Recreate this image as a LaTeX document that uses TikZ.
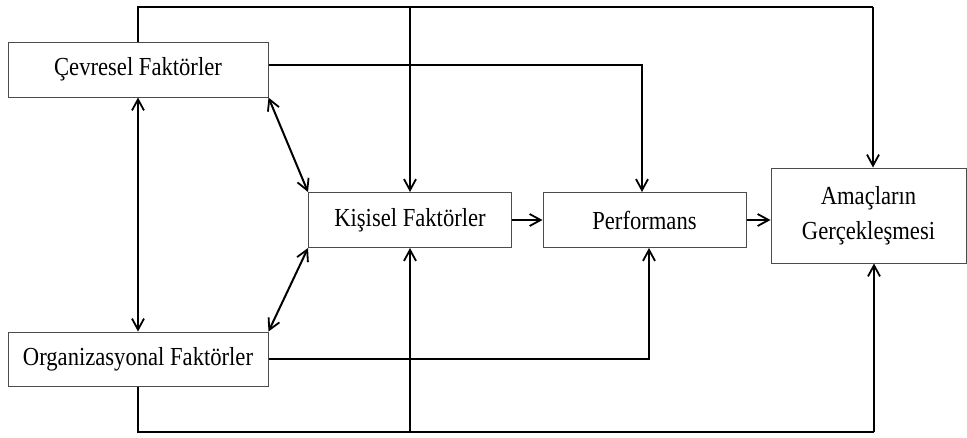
\documentclass[tikz,border=0pt]{standalone}
\usepackage{fontspec}
\setmainfont{Liberation Serif}
\newfontfamily\boxfont[FakeStretch=0.87]{Liberation Serif}
\usetikzlibrary{arrows.meta,calc}
\begin{document}
\begin{tikzpicture}[x=1pt,y=-1pt,
  box/.style={draw=black!70,line width=1pt,fill=white,inner sep=0pt,
    font=\boxfont\fontsize{26}{35}\selectfont,align=center},
  conn/.style={line width=2pt,-{Straight Barb[length=11pt,width=12pt,line width=1.8pt]}},
  dconn/.style={line width=2pt,{Straight Barb[length=11pt,width=12pt,line width=1.8pt]}-{Straight Barb[length=11pt,width=12pt,line width=1.8pt]}},
  heavy/.style={line width=2.6pt},
  hconn/.style={line width=2.6pt,-{Straight Barb[length=11pt,width=12pt,line width=1.8pt]}}]
\useasboundingbox (0,0) rectangle (967,437);
\node[box,minimum width=260pt,minimum height=55pt] (cev) at (138,69.5) {Çevresel Faktörler};
\node[box,minimum width=260pt,minimum height=54pt] (org) at (138,359) {Organizasyonal Faktörler};
\node[box,minimum width=203pt,minimum height=55pt] (kis) at (410,220) {Kişisel Faktörler};
\node[box,minimum width=203pt,minimum height=55pt] (perf) at (644.5,220) {Performans};
\node[box,minimum width=195pt,minimum height=95pt] (ama) at (868.5,215.5) {Amaçların\\Gerçekleşmesi};
\coordinate (top) at (0,7);
\coordinate (bot) at (0,432);
% top line
\draw[heavy] (cev.north) |- ([xshift=4.5pt]ama.north |- top);
\draw[conn] ([xshift=4.5pt]ama.north |- top) -- ([xshift=4.5pt]ama.north);
\draw[conn] (kis.north |- top) -- (kis.north);
% bottom line
\draw[heavy] (org.south) |- ([xshift=5.5pt]ama.south |- bot);
\draw[conn] ([xshift=5.5pt]ama.south |- bot) -- ([xshift=5.5pt]ama.south);
\draw[conn] (kis.south |- bot) -- (kis.south);
% environmental to performance
\draw[hconn] ([yshift=4.5pt]cev.east) -| ([xshift=-2.5pt]perf.north);
% organizational to performance
\draw[hconn] (org.east) -| ([xshift=4.5pt]perf.south);
% mutual relations
\draw[dconn] (cev.south) -- (org.north);
\draw[dconn] (cev.south east) -- (kis.north west);
\draw[dconn] (org.north east) -- (kis.south west);
% main flow
\draw[hconn] (kis.east) -- (perf.west);
\draw[hconn] (perf.east) -- (ama.west |- perf.east);
\end{tikzpicture}
\end{document}
